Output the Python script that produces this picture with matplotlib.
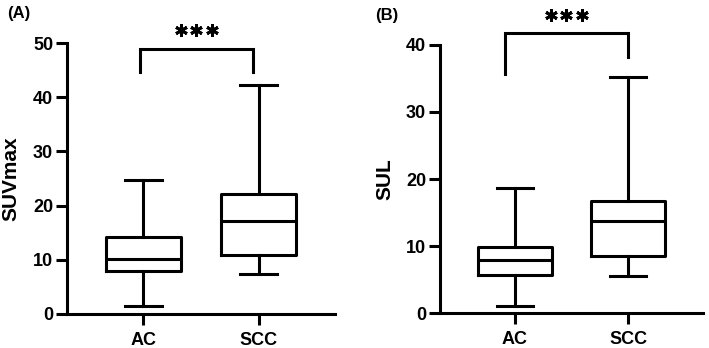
import matplotlib.pyplot as plt

plt.rcParams['font.family'] = ['Liberation Sans', 'DejaVu Sans']
plt.rcParams['font.weight'] = 'bold'

groups = ["AC", "SCC"]

# whislo, q1, med, q3, whishi
suvmax = [[1.5, 7.9, 10.1, 14.15, 24.7],
          [7.4, 10.8, 17.2, 22.2, 42.3]]
sul = [[1.1, 5.7, 7.9, 9.8, 18.6],
       [5.6, 8.55, 13.75, 16.7, 35.2]]


def make_stats(vals):
    out = []
    for name, v in zip(groups, vals):
        out.append(dict(label=name, whislo=v[0], q1=v[1], med=v[2], q3=v[3], whishi=v[4], fliers=[]))
    return out


def panel(ax, vals, ylabel, ymax, step, bracket, star_y, letter, label_x, letter_x):
    lw = 2.2
    style = dict(color='black', linewidth=lw)
    ax.bxp(make_stats(vals), positions=[0, 1], widths=0.65, showfliers=False,
           boxprops=style, whiskerprops=style, capprops=style, medianprops=style,
           capwidths=0.32)
    ax.set_xlim(-0.66, 1.66)
    ax.set_ylim(0, ymax)
    ax.set_yticks(range(0, ymax + 1, step))
    ax.set_ylabel(ylabel, fontsize=15, fontweight='bold')
    ax.yaxis.set_label_coords(label_x, 0.5)
    for s in ['top', 'right']:
        ax.spines[s].set_visible(False)
    for s in ['left', 'bottom']:
        ax.spines[s].set_linewidth(lw)
    ax.tick_params(width=lw, length=8, labelsize=13)
    ax.tick_params(axis='y', pad=2)
    ax.tick_params(axis='x', pad=5)
    x0, x1, top, left_end, right_end = bracket
    ax.plot([x0, x0, x1, x1], [left_end, top, top, right_end], color='black',
            linewidth=lw, clip_on=False, solid_joinstyle='miter')
    xm = (x0 + x1) / 2
    sx = [xm - 0.135, xm, xm + 0.135]
    ax.plot(sx, [star_y] * 3, linestyle='none', marker=(6, 2, 0), markersize=9,
            markeredgewidth=2.1, color='black', clip_on=False)
    ax.text(letter_x, 1.11, letter, transform=ax.transAxes, fontsize=12,
            fontweight='bold', ha='left', va='center')


fig = plt.figure(figsize=(7.09, 3.48), dpi=100)
ax1 = fig.add_axes([0.0945, 0.098, 0.378, 0.778])
ax2 = fig.add_axes([0.6206, 0.100, 0.371, 0.771])

panel(ax1, suvmax, "SUVmax", 50, 10, (-0.03, 0.95, 48.9, 44.7, 44.7), 52.5, "(A)", -0.172, -0.224)
panel(ax2, sul, "SUL", 40, 10, (-0.09, 1.0, 41.7, 35.7, 38.2), 44.5, "(B)", -0.175, -0.247)

fig.savefig("out.png", dpi=100)
